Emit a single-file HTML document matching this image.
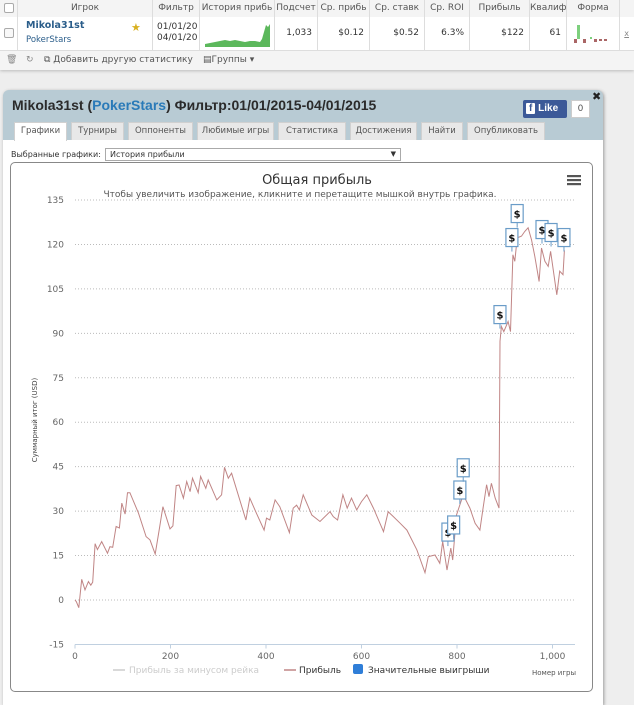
<!DOCTYPE html>
<html><head><meta charset="utf-8">
<style>
*{box-sizing:border-box;margin:0;padding:0}
body{width:634px;height:700px;overflow:hidden;background:#eeeeee;font-family:"DejaVu Sans","Liberation Sans",sans-serif;position:relative}
.abs{position:absolute}
.hdr{font-size:9px;color:#555;text-align:center;line-height:17px;border-right:1px solid #ddd;top:0;height:17px;background:#f4f4f4}
.cell{font-size:9px;color:#333;text-align:right;top:17px;height:33px;line-height:33px;border-right:1px solid #ddd;padding-right:5px;background:#fff}
.tab{top:122px;height:18px;background:#e8e8e8;border:1px solid #d0d0d0;border-bottom:none;font-size:8.5px;color:#555;text-align:center;line-height:17px}
</style></head><body>
<div class="abs" style="left:0;top:0;width:634px;height:70px;background:#fff;border-bottom:1px solid #ccc;box-shadow:0 1px 3px #bbb">
<div class="abs hdr" style="left:0;width:18px"><span style="display:inline-block;width:10px;height:10px;border:1px solid #aaa;border-radius:2px;margin-top:3px;background:#fff"></span></div>
<div class="abs hdr" style="left:18px;width:135px">Игрок</div>
<div class="abs hdr" style="left:153px;width:47px">Фильтр</div>
<div class="abs hdr" style="left:200px;width:75px;overflow:hidden;white-space:nowrap">История прибь</div>
<div class="abs hdr" style="left:275px;width:43px">Подсчет</div>
<div class="abs hdr" style="left:318px;width:52px;overflow:hidden;white-space:nowrap">Ср. прибь</div>
<div class="abs hdr" style="left:370px;width:55px;overflow:hidden;white-space:nowrap">Ср. ставк</div>
<div class="abs hdr" style="left:425px;width:45px">Ср. ROI</div>
<div class="abs hdr" style="left:470px;width:60px">Прибыль</div>
<div class="abs hdr" style="left:530px;width:37px;overflow:hidden;white-space:nowrap">Квалиф</div>
<div class="abs hdr" style="left:567px;width:53px">Форма</div>
<div class="abs hdr" style="left:620px;width:14px;border:none"></div>
<div class="abs cell" style="left:0;width:18px;padding:0;text-align:center"><span style="display:inline-block;width:10px;height:10px;border:1px solid #aaa;border-radius:2px;vertical-align:middle;background:#f8f8f8"></span></div>
<div class="abs cell" style="left:18px;width:135px;text-align:left;padding-left:8px;line-height:normal">
<div style="font-weight:bold;color:#2a5d8a;font-size:9.5px;margin-top:3px">Mikola31st</div>
<div style="color:#2a5d8a;font-size:8.5px;margin-top:4px">PokerStars</div>
<div class="abs" style="left:113px;top:4px;color:#d8b020;font-size:11px">★</div>
</div>
<div class="abs cell" style="left:153px;width:47px;text-align:left;padding-left:4px;line-height:11px;padding-top:5px;overflow:hidden;white-space:nowrap">01/01/20<br>04/01/20</div>
<div class="abs cell" style="left:200px;width:75px;padding:0">
<svg width="74" height="33"><path d="M5 27 L10 26 L15 25 L20 24 L25 23 L30 24 L35 23 L40 24 L45 25 L50 24 L55 24 L60 25 L62 22 L64 15 L66 8 L68 10 L70 7 L70 30 L5 30Z" fill="#5cb85c"/></svg></div>
<div class="abs cell" style="left:275px;width:43px">1,033</div>
<div class="abs cell" style="left:318px;width:52px">$0.12</div>
<div class="abs cell" style="left:370px;width:55px">$0.52</div>
<div class="abs cell" style="left:425px;width:45px">6.3%</div>
<div class="abs cell" style="left:470px;width:60px">$122</div>
<div class="abs cell" style="left:530px;width:37px">61</div>
<div class="abs cell" style="left:567px;width:53px;padding:0"><svg width="52" height="33"><rect x="10" y="8" width="3" height="14" fill="#7ed07e"/><rect x="7" y="22" width="3" height="4" fill="#a66"/><rect x="16" y="22" width="3" height="4" fill="#a66"/><rect x="23" y="20" width="2" height="2" fill="#7ed07e"/><rect x="27" y="22" width="3" height="3" fill="#a66"/><rect x="32" y="22" width="3" height="2" fill="#a66"/><rect x="37" y="22" width="3" height="2" fill="#a66"/></svg></div>
<div class="abs cell" style="left:620px;width:14px;border:none;font-size:8px;color:#888;text-decoration:underline">x</div>
<div class="abs" style="left:0;top:50px;width:634px;height:20px;background:#f4f4f4;border-top:1px solid #ddd;font-size:9px;color:#555;line-height:19px">
<span class="abs" style="left:6px;color:#888">🗑</span>
<span class="abs" style="left:26px;color:#888">↻</span>
<span class="abs" style="left:44px">⧉ Добавить другую статистику</span>
<span class="abs" style="left:203px">▤Группы ▾</span>
</div>
</div>

<div class="abs" style="left:3px;top:90px;width:600px;height:615px;background:#b8cbd4;border-radius:6px 6px 0 0;box-shadow:1px 1px 3px #999">
<div class="abs" style="left:9px;top:7px;font-family:'Liberation Sans',sans-serif;font-weight:bold;font-size:14px;color:#2b2b2b;white-space:nowrap">Mikola31st (<span style="color:#2a7ab8">PokerStars</span>) Фильтр:01/01/2015-04/01/2015</div>
<div class="abs" style="left:520px;top:10px;width:44px;height:18px;background:#3b5998;border-radius:2px;color:#fff;font-family:'Liberation Sans',sans-serif;font-weight:bold;font-size:10px;line-height:18px;padding-left:3px"><span style="background:#fff;color:#3b5998;padding:0 3px;border-radius:1px">f</span> Like</div>
<div class="abs" style="left:568px;top:10px;width:19px;height:18px;background:#fff;border:1px solid #ccc;font-size:9px;color:#555;text-align:center;line-height:16px">0</div>
<div class="abs" style="left:589px;top:0px;font-size:11px;font-weight:bold;color:#222">✖</div>
<div class="abs" style="left:0;top:50px;width:600px;height:565px;background:#fff"></div>
</div>
<div class="abs tab" style="left:14px;width:53px;background:#fff;height:19px">Графики</div>
<div class="abs tab" style="left:71px;width:53px">Турниры</div>
<div class="abs tab" style="left:128px;width:65px">Оппоненты</div>
<div class="abs tab" style="left:197px;width:77px">Любимые игры</div>
<div class="abs tab" style="left:278px;width:68px">Статистика</div>
<div class="abs tab" style="left:350px;width:67px">Достижения</div>
<div class="abs tab" style="left:421px;width:42px">Найти</div>
<div class="abs tab" style="left:467px;width:78px">Опубликовать</div>
<div class="abs" style="left:11px;top:150px;font-size:8px;color:#333">Выбранные графики:</div>
<div class="abs" style="left:105px;top:148px;width:296px;height:13px;border:1px solid #aaa;font-size:8px;color:#333;padding-left:4px;line-height:11px;background:#fff">История прибыли<span style="position:absolute;right:4px;font-size:7px">▼</span></div>
<div class="abs" style="left:10px;top:162px;width:583px;height:530px;border:1px solid #888;border-radius:5px;background:#fff"></div>

<svg class="abs" id="chart" style="left:0;top:0" width="634" height="700" font-family="DejaVu Sans, Liberation Sans, sans-serif"></svg>
<script>
const tickX=[0,200,400,600,800,1000];
const tickXLabels=["0","200","400","600","800","1,000"];
const tickY=[-15,0,15,30,45,60,75,90,105,120,135];
const games=[0,3,8,14,21,28,33,37,42,47,56,68,73,79,86,93,98,105,110,115,133,149,157,168,177,184,199,205,212,218,227,234,241,246,258,263,274,279,297,307,313,321,328,358,366,380,396,401,408,419,429,449,457,464,470,478,496,513,534,541,550,561,570,579,590,600,611,625,646,656,667,681,695,716,733,740,754,764,770,779,787,791,799,813,827,838,848,854,862,867,872,880,888,890,893,898,907,912,917,921,926,935,942,949,956,963,972,977,984,991,996,1009,1015,1022,1025];
const profit=[0,-0.6,-2.6,7,3.4,6.2,5,6,19,17,19.7,15.8,18,17.8,24.8,24.3,32.7,29,36.2,36.2,29.3,21.4,20.3,15.5,24.3,31.5,24,25,38.6,38.8,34.4,40,36.6,41.1,36.2,41.7,37.7,40.5,33.8,35.5,44.8,41.1,42.8,27,34.4,29.3,23.6,27.6,27,33.8,31.5,22.7,31,32,30.4,35.5,28.7,26.5,29.8,28.1,27,35.5,31,34.4,30.4,33.2,35.5,31,23.1,29.8,28.1,25.9,23.6,16.9,9.2,14.6,15.2,12.4,19.7,10.1,17.5,13.5,28.7,35.5,31,25.9,23.6,30.4,38.9,34.9,39.4,34.4,31,87.3,92.3,90.6,94,90.6,116.5,114.3,122.2,122.8,124.4,125.6,121.6,116,107.5,118.8,114.3,112.6,117.7,103,111,109.8,118];
const bigWinGames=[781,793,806,813,890,915,926,978,997,1024];
const bigWinValues=[18.2,20.6,32.4,39.9,91.6,117.6,125.7,120.3,119.3,117.6];

const X0=75,XS=0.4775,Y0=600,YS=2.963;
const xs=v=>X0+v*XS, ys=v=>Y0-v*YS;
const svg=document.getElementById('chart');
const NS='http://www.w3.org/2000/svg';
function mk(tag,attrs,parent){const e=document.createElementNS(NS,tag);for(const k in attrs)e.setAttribute(k,attrs[k]);(parent||svg).appendChild(e);return e;}
function txt(s,attrs){const t=mk('text',attrs);t.textContent=s;return t;}

let t=txt('Общая прибыль',{x:317,y:184,'text-anchor':'middle','font-size':13,fill:'#333'});


t=txt('Чтобы увеличить изображение, кликните и перетащите мышкой внутрь графика.',{x:300,y:197,'text-anchor':'middle','font-size':9,fill:'#555'});


const menu=mk('g',{});


for(let i=0;i<3;i++)mk('rect',{x:567,y:175+i*4,width:14,height:2.2,fill:'#555'},menu);

tickY.forEach(v=>{
  const g=mk('line',{x1:75,x2:575,y1:ys(v),y2:ys(v),stroke:v===-15?'#c0d0e0':'#bbb','stroke-dasharray':v===-15?'':'1,2','stroke-width':1});
  
  
  const l=txt(String(v),{x:64,y:ys(v)+3,'text-anchor':'end','font-size':9,fill:'#666'});
  
  
});
tickX.forEach((v,i)=>{
  const tk=mk('line',{x1:xs(v),x2:xs(v),y1:ys(-15),y2:ys(-15)+4,stroke:'#c0d0e0'});
  
  
  const l=txt(tickXLabels[i],{x:xs(v),y:659,'text-anchor':'middle','font-size':9,fill:'#666'});
  
  
});
t=txt('Суммарный итог (USD)',{x:37,y:420,'text-anchor':'middle','font-size':7,fill:'#444',transform:'rotate(-90 37 420)'});


t=txt('Номер игры',{x:576,y:675,'text-anchor':'end','font-size':7,fill:'#555'});



const line=mk('path',{d:games.map((g,i)=>(i?'L':'M')+xs(g).toFixed(1)+' '+ys(profit[i]).toFixed(1)).join(' '),fill:'none',stroke:'#c08585','stroke-width':1});



bigWinGames.forEach((g,i)=>{
  const cx=xs(g),cy=ys(bigWinValues[i]);
  const grp=mk('g',{});
  
  
  mk('line',{x1:cx,x2:cx,y1:cy,y2:cy-5,stroke:'#6a9cc8'},grp);
  mk('rect',{x:cx-6,y:cy-23,width:12,height:18,fill:'#fff',stroke:'#6a9cc8','stroke-width':1.2},grp);
  const s=mk('text',{x:cx,y:cy-10,'text-anchor':'middle','font-size':10,'font-weight':'bold',fill:'#111'},grp);s.textContent='$';
});

const lg=mk('g',{});


const e1=mk('g',{},lg);


mk('line',{x1:113,x2:125,y1:670,y2:670,stroke:'#ccc','stroke-width':1.5},e1);
let tt=mk('text',{x:129,y:673,'font-size':9,fill:'#ccc'},e1);tt.textContent='Прибыль за минусом рейка';
const e2=mk('g',{},lg);


mk('line',{x1:284,x2:296,y1:670,y2:670,stroke:'#c08585','stroke-width':1.5},e2);
tt=mk('text',{x:299,y:673,'font-size':9,fill:'#333'},e2);tt.textContent='Прибыль';
const e3=mk('g',{},lg);


mk('rect',{x:353,y:664,width:10,height:10,rx:2,fill:'#2f7ed8'},e3);
tt=mk('text',{x:368,y:673,'font-size':9,fill:'#333'},e3);tt.textContent='Значительные выигрыши';
</script>
</body></html>
